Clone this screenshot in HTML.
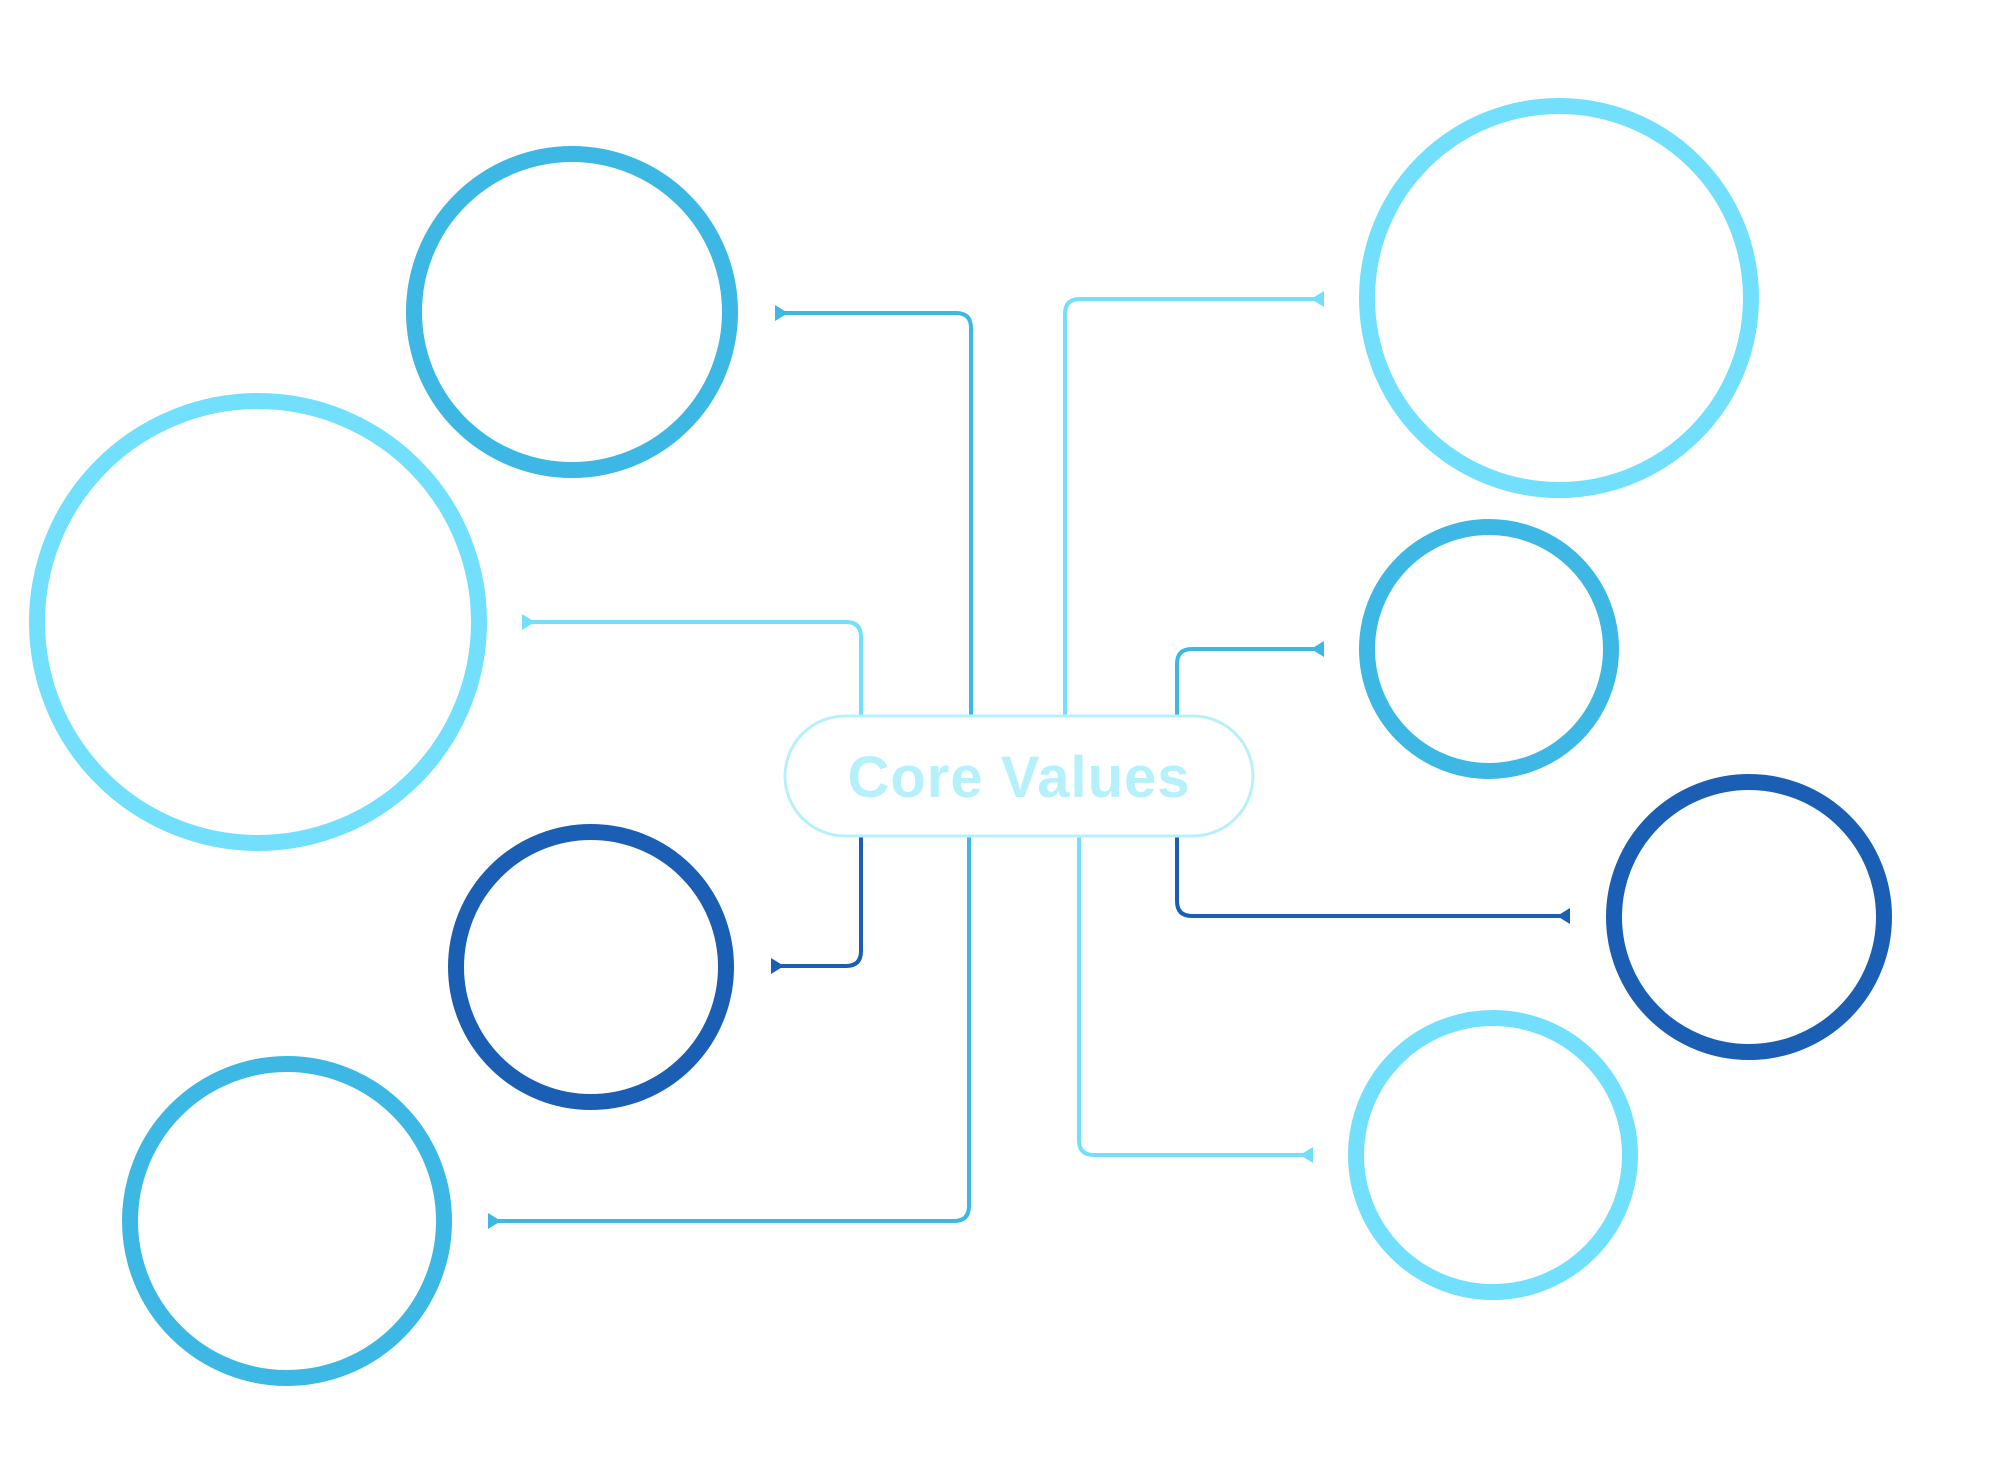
<!DOCTYPE html>
<html><head><meta charset="utf-8"><style>html,body{margin:0;padding:0;background:#fff}svg{display:block}</style></head>
<body>
<svg width="1993" height="1480" viewBox="0 0 1993 1480" xmlns="http://www.w3.org/2000/svg">
<g fill="none" stroke-width="16">
<circle cx="572" cy="312" r="158" stroke="#3db8e4"/>
<circle cx="258" cy="622" r="221" stroke="#72e0fc"/>
<circle cx="591" cy="967" r="135" stroke="#1a5fb4"/>
<circle cx="287" cy="1221" r="157" stroke="#3db8e4"/>
<circle cx="1559" cy="298" r="192" stroke="#72e0fc"/>
<circle cx="1489" cy="649" r="122" stroke="#3db8e4"/>
<circle cx="1749" cy="917" r="135" stroke="#1a5fb4"/>
<circle cx="1493" cy="1155" r="137" stroke="#72e0fc"/>
</g>
<g fill="none" stroke-width="4">
<path d="M780 313 H956 Q971 313 971 328 V716" stroke="#3db8e4"/>
<path d="M523 622 H846 Q861 622 861 637 V716" stroke="#72e0fc"/>
<path d="M1065 716 V314 Q1065 299 1080 299 H1319" stroke="#72e0fc"/>
<path d="M1177 716 V664 Q1177 649 1192 649 H1319" stroke="#3db8e4"/>
<path d="M861 836 V951 Q861 966 846 966 H772" stroke="#1a5fb4"/>
<path d="M969 836 V1206 Q969 1221 954 1221 H489" stroke="#3db8e4"/>
<path d="M1079 836 V1140 Q1079 1155 1094 1155 H1308" stroke="#72e0fc"/>
<path d="M1177 836 V901 Q1177 916 1192 916 H1565" stroke="#1a5fb4"/>
</g>
<g>
<polygon points="775,305 788,313 775,321" fill="#3db8e4"/>
<polygon points="522,614 535,622 522,630" fill="#72e0fc"/>
<polygon points="1324,291 1311,299 1324,307" fill="#72e0fc"/>
<polygon points="1324,641 1311,649 1324,657" fill="#3db8e4"/>
<polygon points="771,958 784,966 771,974" fill="#1a5fb4"/>
<polygon points="488,1213 501,1221 488,1229" fill="#3db8e4"/>
<polygon points="1313,1147 1300,1155 1313,1163" fill="#72e0fc"/>
<polygon points="1570,908 1557,916 1570,924" fill="#1a5fb4"/>
</g>
<rect x="785" y="716" width="468" height="120" rx="60" ry="60" fill="#fff" stroke="#b6f1fb" stroke-width="3"/>
<text x="1019" y="797" text-anchor="middle" font-family="Liberation Sans, sans-serif" font-weight="bold" font-size="58" letter-spacing="1" fill="#b6f1fb">Core Values</text>
</svg>
</body></html>
